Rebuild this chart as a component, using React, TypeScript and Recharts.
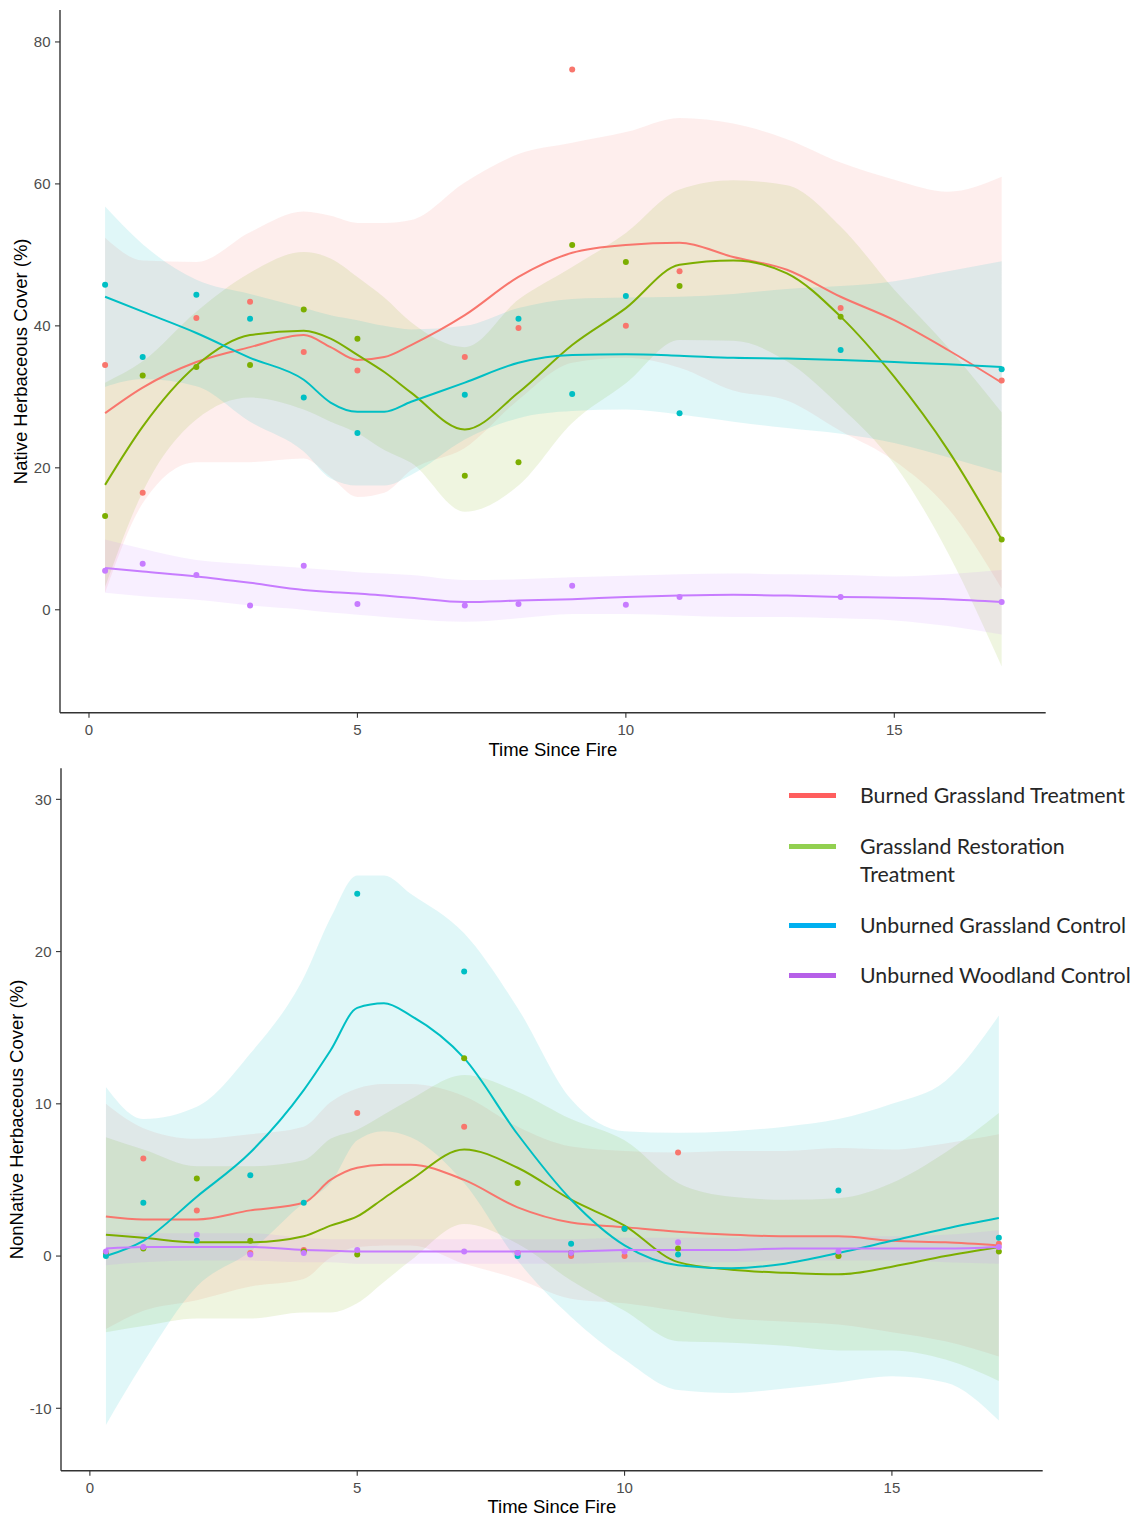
import { Area, ComposedChart, Line, Scatter, XAxis, YAxis } from "recharts";

const GROUPS = [
  "Burned Grassland Treatment",
  "Grassland Restoration Treatment",
  "Unburned Grassland Control",
  "Unburned Woodland Control",
];
// legend text as it breaks on the page
const LEGEND_LABELS = [
  "Burned Grassland Treatment",
  "Grassland Restoration\nTreatment",
  "Unburned Grassland Control",
  "Unburned Woodland Control",
];
const POINT_COLORS = ["#F8766D", "#7CAE00", "#00BFC4", "#C77CFF"];
const LEGEND_COLORS = ["#FF5E5E", "#92D050", "#00B0F0", "#B660E8"];

const SURVEY_YEARS = [0.3, 1, 2, 3, 4, 5, 7, 8, 9, 10, 11, 14, 17];
const FIT_X = [0.3, 1, 2, 3, 4, 4.5, 5, 5.5, 6, 7, 8, 9, 10, 11, 12, 13, 14, 15, 16, 17];
const X_TICKS = [0, 5, 10, 15];

// Native herbaceous cover (%), plot means
const nativeBurned = [34.5, 16.5, 41.1, 43.4, 36.3, 33.7, 35.6, 39.7, 76.1, 40.0, 47.7, 42.5, 32.3];
const nativeRestoration = [13.2, 33.0, 34.2, 34.5, 42.3, 38.2, 18.9, 20.8, 51.4, 49.0, 45.6, 41.3, 9.9];
const nativeGrassCtrl = [45.8, 35.6, 44.4, 41.0, 29.9, 24.9, 30.3, 41.0, 30.4, 44.2, 27.7, 36.6, 33.9];
const nativeWoodCtrl = [5.5, 6.5, 4.9, 0.6, 6.2, 0.8, 0.6, 0.8, 3.4, 0.7, 1.8, 1.8, 1.1];

// loess fits and 95% bands, native
const nativeBurnedFit = [27.7, 31.3, 34.9, 37.0, 38.7, 37.0, 35.2, 35.6, 37.3, 41.5, 46.9, 50.3, 51.4, 51.7, 49.7, 47.9, 44.1, 40.8, 36.6, 32.0];
const nativeBurnedLo = [2.4, 15.0, 20.8, 20.8, 21.3, 18.7, 15.9, 16.5, 19.7, 22.8, 29.6, 34.8, 35.5, 34.1, 30.9, 29.5, 25.2, 21.0, 14.3, 3.0];
const nativeBurnedHi = [52.4, 49.2, 49.0, 53.2, 56.1, 55.5, 54.5, 54.5, 54.9, 60.2, 64.2, 65.8, 67.3, 69.3, 68.5, 66.3, 63.0, 60.6, 58.9, 61.0];

const nativeRestorationFit = [17.6, 25.8, 34.4, 38.7, 39.3, 38.2, 35.9, 33.5, 30.6, 25.4, 30.6, 37.3, 42.5, 48.6, 49.2, 47.4, 41.3, 32.8, 22.5, 9.9];
const nativeRestorationLo = [3.2, 16.6, 26.8, 29.9, 28.2, 26.5, 24.9, 22.5, 20.7, 13.8, 17.5, 26.3, 31.9, 38.0, 37.9, 35.0, 28.6, 20.5, 8.0, -8.0];
const nativeRestorationHi = [32.0, 35.0, 42.0, 47.5, 50.4, 49.5, 46.9, 44.0, 40.5, 37.0, 43.7, 48.3, 53.1, 59.2, 60.5, 59.8, 54.0, 45.1, 37.0, 27.8];

const nativeGrassCtrlFit = [44.1, 42.0, 39.0, 35.5, 32.4, 29.2, 27.9, 27.9, 29.3, 32.0, 34.8, 35.9, 36.0, 35.8, 35.5, 35.4, 35.2, 34.9, 34.6, 34.2];
const nativeGrassCtrlLo = [31.4, 32.5, 31.5, 26.5, 22.3, 18.5, 17.5, 17.5, 19.0, 24.0, 27.0, 28.0, 28.2, 27.5, 26.5, 25.6, 24.8, 23.5, 21.5, 19.3];
const nativeGrassCtrlHi = [56.8, 51.5, 46.5, 44.5, 42.5, 41.5, 40.8, 40.0, 39.5, 40.0, 42.5, 43.8, 44.0, 44.1, 44.5, 45.2, 45.6, 46.3, 47.7, 49.1];

const nativeWoodCtrlFit = [5.9, 5.4, 4.7, 3.8, 2.8, 2.5, 2.3, 2.0, 1.7, 1.1, 1.3, 1.5, 1.8, 2.0, 2.1, 2.0, 1.8, 1.7, 1.5, 1.1];
const nativeWoodCtrlLo = [2.4, 1.9, 1.4, 0.6, 0.0, -0.4, -0.7, -1.0, -1.3, -1.7, -1.2, -0.6, -0.6, -0.8, -1.0, -1.0, -1.2, -1.5, -2.3, -3.5];
const nativeWoodCtrlHi = [9.9, 8.6, 7.0, 6.4, 5.9, 5.6, 5.3, 5.1, 4.9, 4.2, 4.3, 4.6, 4.8, 5.0, 5.1, 5.0, 4.9, 4.7, 5.0, 5.6];

// Non-native herbaceous cover (%), plot means
const nonBurned = [0.2, 6.4, 3.0, 0.2, 0.4, 9.4, 8.5, 0.2, 0.0, 0.0, 6.8, 0.0, 0.8];
const nonRestoration = [0.2, 0.5, 5.1, 1.0, 0.3, 0.1, 13.0, 4.8, 0.2, 1.8, 0.5, 0.0, 0.3];
const nonGrassCtrl = [0.0, 3.5, 1.0, 5.3, 3.5, 23.8, 18.7, 0.0, 0.8, 1.8, 0.1, 4.3, 1.2];
const nonWoodCtrl = [0.3, 0.6, 1.4, 0.1, 0.2, 0.4, 0.3, 0.2, 0.2, 0.3, 0.9, 0.3, 0.6];

// loess fits and 95% bands, non-native
const nonBurnedFit = [2.6, 2.4, 2.4, 3.0, 3.5, 5.0, 5.8, 6.0, 6.0, 5.0, 3.2, 2.2, 1.9, 1.6, 1.4, 1.3, 1.3, 1.0, 0.9, 0.7];
const nonBurnedLo = [-4.8, -3.6, -2.9, -2.0, -1.5, -0.1, 0.6, 0.7, 0.7, -0.5, -1.5, -2.8, -3.1, -3.6, -4.1, -4.3, -4.5, -5.0, -5.6, -6.6];
const nonBurnedHi = [10.0, 8.4, 7.7, 8.0, 8.5, 10.1, 11.0, 11.3, 11.3, 10.5, 8.5, 7.2, 6.9, 6.8, 6.9, 6.9, 7.1, 7.0, 7.4, 8.0];

const nonRestorationFit = [1.4, 1.2, 0.9, 0.9, 1.3, 2.0, 2.6, 3.8, 5.0, 7.0, 5.8, 3.7, 2.0, -0.4, -0.9, -1.1, -1.2, -0.7, 0.0, 0.6];
const nonRestorationLo = [-5.0, -4.6, -4.1, -4.1, -3.7, -3.7, -3.1, -1.7, -0.3, 2.1, 0.8, -1.6, -3.6, -5.6, -5.7, -5.9, -6.2, -6.2, -6.8, -8.2];
const nonRestorationHi = [7.8, 7.0, 5.9, 5.9, 6.3, 7.7, 8.3, 9.3, 10.3, 11.9, 10.8, 9.0, 7.6, 4.8, 3.9, 3.7, 3.8, 4.8, 6.8, 9.4];

const nonGrassCtrlFit = [0.0, 1.0, 3.9, 6.8, 10.9, 13.5, 16.3, 16.6, 15.8, 13.0, 8.0, 3.7, 0.7, -0.6, -0.8, -0.5, 0.2, 1.0, 1.8, 2.5];
const nonGrassCtrlLo = [-11.1, -7.0, -2.0, 0.3, 3.5, 4.8, 7.6, 8.2, 7.8, 4.8, -0.3, -4.0, -6.8, -8.8, -9.0, -8.7, -8.3, -7.9, -8.3, -10.8];
const nonGrassCtrlHi = [11.1, 9.0, 9.8, 13.3, 18.3, 22.2, 25.0, 25.0, 23.8, 21.2, 16.3, 10.3, 8.2, 8.1, 8.2, 8.5, 9.0, 10.0, 11.5, 15.8];

const nonWoodCtrlFit = [0.5, 0.6, 0.6, 0.6, 0.4, 0.35, 0.3, 0.3, 0.3, 0.3, 0.3, 0.3, 0.4, 0.4, 0.4, 0.5, 0.5, 0.5, 0.5, 0.6];
const nonWoodCtrlLo = [-0.6, -0.4, -0.3, -0.3, -0.4, -0.4, -0.5, -0.5, -0.5, -0.5, -0.5, -0.5, -0.4, -0.4, -0.4, -0.3, -0.3, -0.3, -0.4, -0.5];
const nonWoodCtrlHi = [1.6, 1.5, 1.5, 1.5, 1.2, 1.1, 1.1, 1.1, 1.1, 1.1, 1.1, 1.1, 1.2, 1.2, 1.2, 1.3, 1.3, 1.3, 1.4, 1.7];

const AXIS_FONT = "'Liberation Sans', Arial, sans-serif";

type Fit = { fit: number[]; lo: number[]; hi: number[] };

function fitRows(fits: Fit[]) {
  return FIT_X.map((x, i) => {
    const row: Record<string, any> = { x };
    fits.forEach((f, g) => {
      row[`fit${g}`] = f.fit[i];
      row[`band${g}`] = [f.lo[i], f.hi[i]];
    });
    return row;
  });
}

function pointRows(values: number[]) {
  return SURVEY_YEARS.map((x, i) => ({ x, y: values[i] }));
}

type PanelProps = {
  top: number;
  height: number;
  margin: { top: number; right: number; bottom: number; left: number };
  yWidth: number;
  yDomain: [number, number];
  yTicks: number[];
  yLabel: string;
  yLabelOffset: number;
  xLabelOffset: number;
  fits: Fit[];
  points: number[][];
};

function Panel(p: PanelProps) {
  const rows = fitRows(p.fits);
  return (
    <div style={{ position: "absolute", left: 0, top: p.top }}>
      <ComposedChart width={1136} height={p.height} data={rows} margin={p.margin}>
        <XAxis
          type="number"
          dataKey="x"
          domain={[-0.54, 17.82]}
          ticks={X_TICKS}
          allowDataOverflow
          height={46}
          tickSize={5}
          tickMargin={6.5}
          axisLine={{ stroke: "#333", strokeWidth: 1.4 }}
          tickLine={{ stroke: "#333", strokeWidth: 1.1 }}
          tick={{ fill: "#4d4d4d", fontSize: 15, fontFamily: AXIS_FONT }}
          label={{
            value: "Time Since Fire",
            position: "insideBottom",
            offset: p.xLabelOffset,
            fill: "#000",
            fontSize: 18.5,
            fontFamily: AXIS_FONT,
          }}
        />
        <YAxis
          type="number"
          domain={p.yDomain}
          ticks={p.yTicks}
          allowDataOverflow
          width={p.yWidth}
          tickSize={5}
          tickMargin={4.5}
          axisLine={{ stroke: "#333", strokeWidth: 1.4 }}
          tickLine={{ stroke: "#333", strokeWidth: 1.1 }}
          tick={{ fill: "#4d4d4d", fontSize: 15, fontFamily: AXIS_FONT }}
          label={{
            value: p.yLabel,
            angle: -90,
            position: "insideLeft",
            offset: p.yLabelOffset,
            style: { textAnchor: "middle" },
            fill: "#000",
            fontSize: 18.5,
            fontFamily: AXIS_FONT,
          }}
        />
        {POINT_COLORS.map((c, g) => (
          <Area
            key={`band${g}`}
            type="monotone"
            dataKey={`band${g}`}
            stroke="none"
            fill={c}
            fillOpacity={0.12}
            dot={false}
            activeDot={false}
            isAnimationActive={false}
          />
        ))}
        {POINT_COLORS.map((c, g) => (
          <Line
            key={`fit${g}`}
            type="monotone"
            dataKey={`fit${g}`}
            stroke={c}
            strokeWidth={2}
            dot={false}
            activeDot={false}
            isAnimationActive={false}
          />
        ))}
        {POINT_COLORS.map((c, g) => (
          <Scatter
            key={`pts${g}`}
            name={GROUPS[g]}
            data={pointRows(p.points[g])}
            dataKey="y"
            fill={c}
            isAnimationActive={false}
            shape={(s: any) => <circle cx={s.cx} cy={s.cy} r={3} fill={c} />}
          />
        ))}
      </ComposedChart>
    </div>
  );
}

const LEGEND_ROW_CENTERS = [795.5, 846.5, 925.5, 975.5];

function Legend() {
  return (
    <>
      {LEGEND_LABELS.map((label, i) => (
        <div key={label}>
          <div
            style={{
              position: "absolute",
              left: 789,
              top: LEGEND_ROW_CENTERS[i] - 2.5,
              width: 47,
              height: 5,
              background: LEGEND_COLORS[i],
            }}
          />
          <div
            style={{
              position: "absolute",
              left: 860,
              top: LEGEND_ROW_CENTERS[i] - 14.3,
              fontFamily: "Lato, 'Open Sans', sans-serif",
              fontSize: 21.3,
              lineHeight: "28px",
              color: "#262626",
              whiteSpace: "pre",
            }}
          >
            {label}
          </div>
        </div>
      ))}
    </>
  );
}

export default function App() {
  return (
    <div
      style={{
        position: "absolute",
        left: 0,
        top: 0,
        width: 1136,
        height: 1519,
        overflow: "hidden",
        background: "#fff",
      }}
    >
      <Panel
        top={0}
        height={760}
        margin={{ top: 10, right: 90.3, bottom: 1.3, left: 0 }}
        yWidth={60}
        yDomain={[-14.5, 84.5]}
        yTicks={[0, 20, 40, 60, 80]}
        yLabel="Native Herbaceous Cover (%)"
        yLabelOffset={20}
        xLabelOffset={2.7}
        fits={[
          { fit: nativeBurnedFit, lo: nativeBurnedLo, hi: nativeBurnedHi },
          { fit: nativeRestorationFit, lo: nativeRestorationLo, hi: nativeRestorationHi },
          { fit: nativeGrassCtrlFit, lo: nativeGrassCtrlLo, hi: nativeGrassCtrlHi },
          { fit: nativeWoodCtrlFit, lo: nativeWoodCtrlLo, hi: nativeWoodCtrlHi },
        ]}
        points={[nativeBurned, nativeRestoration, nativeGrassCtrl, nativeWoodCtrl]}
      />
      <Panel
        top={760}
        height={759}
        margin={{ top: 8.3, right: 93.3, bottom: 2.3, left: 0 }}
        yWidth={61}
        yDomain={[-14.1, 32.04]}
        yTicks={[-10, 0, 10, 20, 30]}
        yLabel="NonNative Herbaceous Cover (%)"
        yLabelOffset={16}
        xLabelOffset={3.7}
        fits={[
          { fit: nonBurnedFit, lo: nonBurnedLo, hi: nonBurnedHi },
          { fit: nonRestorationFit, lo: nonRestorationLo, hi: nonRestorationHi },
          { fit: nonGrassCtrlFit, lo: nonGrassCtrlLo, hi: nonGrassCtrlHi },
          { fit: nonWoodCtrlFit, lo: nonWoodCtrlLo, hi: nonWoodCtrlHi },
        ]}
        points={[nonBurned, nonRestoration, nonGrassCtrl, nonWoodCtrl]}
      />
      <Legend />
    </div>
  );
}
